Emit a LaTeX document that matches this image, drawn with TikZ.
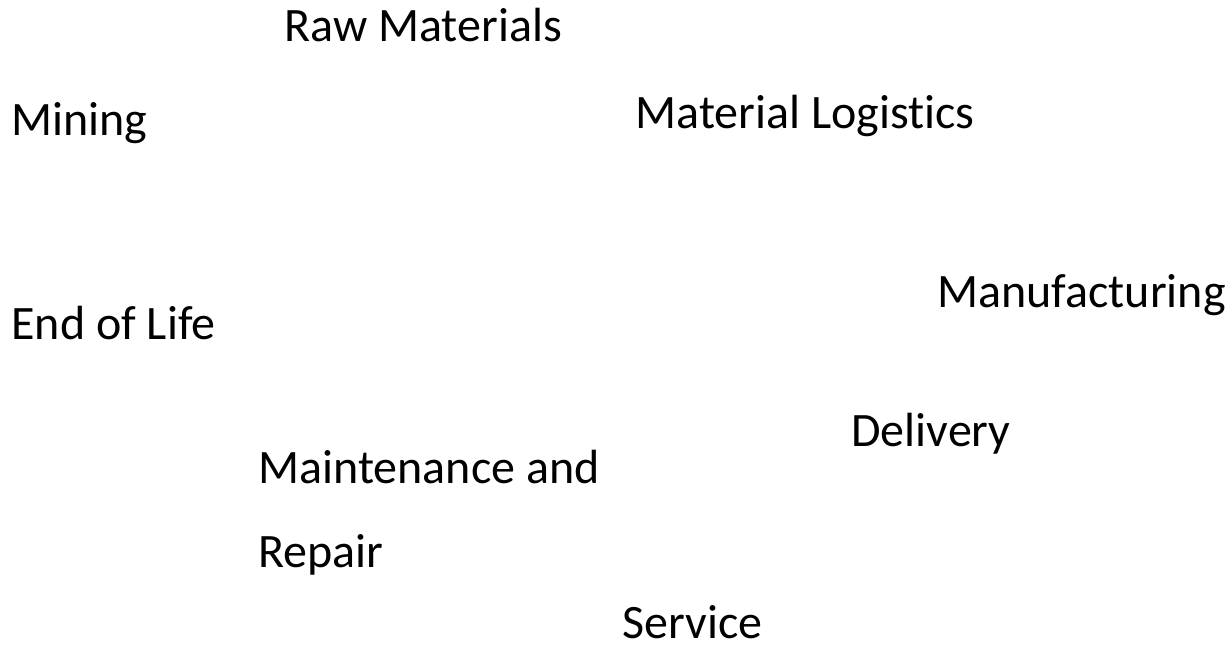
\documentclass[tikz,border=0pt]{standalone}
\usepackage{fontspec}
\setmainfont{Carlito}[Ligatures=NoCommon, RawFeature=-clig]
\usepackage{tikz}
\usetikzlibrary{positioning}
\tikzset{
	x=0.5pt, y=-0.5pt,
	stage/.style = {
			anchor    = base west,
			inner sep = 0pt,
			align     = left,
			font      = \fontsize{24}{42}\selectfont,
		}
}
\begin{document}
\begin{tikzpicture}
		\useasboundingbox (0,0) rectangle (1229,648);

		\node[stage] (Raw Materials) at (284,41) {Raw Materials};
		\node[stage] (Mining) at (11,135) {Mining};
		\node[stage] (Material Logistics) at (635,128) {Material Logistics};
		\node[stage] (Manufacturing) at (937,307) {Manufacturing};
		\node[stage] (End of Life) at (11,339) {End of Life};
		\node[stage] (Delivery) at (851,446) {Delivery};
		% base of a two-line node is its last line
		\node[stage] (Maintenance) at (258,567) {Maintenance and\\
				Repair};
		\node[stage] (Service) at (622,638) {Service};
	\end{tikzpicture}
\end{document}
